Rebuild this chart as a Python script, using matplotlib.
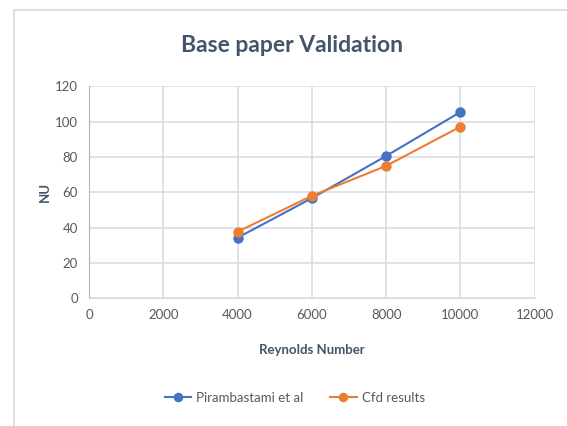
import matplotlib.pyplot as plt
from matplotlib.lines import Line2D

# datos
reynolds = [4000, 6000, 8000, 10000]
nu_paper = [34.3, 56.7, 80.6, 105.5]
nu_cfd = [37.7, 58.0, 75.0, 97.2]
labels = ["Pirambastami et al", "Cfd results"]

plt.rcParams['font.family'] = ['Lato', 'DejaVu Sans']

fig = plt.figure(figsize=(5.67, 4.26), dpi=100)
ax = fig.add_axes([0.157, 0.2998, 0.786, 0.4973])

# marco del grafico
fig.add_artist(Line2D([13.5/567, 13.5/567], [0, 1 - 9.5/426], color='#dde1e6', lw=1.5))
fig.add_artist(Line2D([13.5/567, 1], [1 - 9.5/426, 1 - 9.5/426], color='#dde1e6', lw=1.5))

ax.plot(reynolds, nu_paper, color='#4472C4', lw=1.5, marker='o', ms=6.5, label=labels[0], zorder=3)
ax.plot(reynolds, nu_cfd, color='#ED7D31', lw=1.5, marker='o', ms=6.5, label=labels[1], zorder=3)

ax.set_xlim(0, 12000)
ax.set_ylim(0, 120)
ax.set_xticks(range(0, 12001, 2000))
ax.set_yticks(range(0, 121, 20))
ax.grid(True, color='#d9dde3', lw=1.2)
ax.set_axisbelow(True)
for s in ['top', 'right']:
    ax.spines[s].set_visible(False)
ax.spines['left'].set_color('#a9b6c8')
ax.spines['bottom'].set_color('#d9dde3')
ax.tick_params(length=0, labelsize=9.5, labelcolor='#595959', pad=8)

ax.set_title("Base paper Validation", fontsize=16.5, fontweight='bold', color='#44546A',
             pad=25, x=0.455)
ax.set_xlabel("Reynolds Number", fontsize=9.5, fontweight='bold', color='#44546A', labelpad=16)
ax.set_ylabel("NU", fontsize=9.5, fontweight='bold', color='#44546A', labelpad=3)

fig.legend(loc='center', bbox_to_anchor=(0.52, 1 - 398/426), ncol=2, frameon=False,
           fontsize=9.5, labelcolor='#595959', handlelength=2.0, handletextpad=0.4,
           columnspacing=2.0, markerscale=0.9)

fig.savefig("out.png", dpi=100)
